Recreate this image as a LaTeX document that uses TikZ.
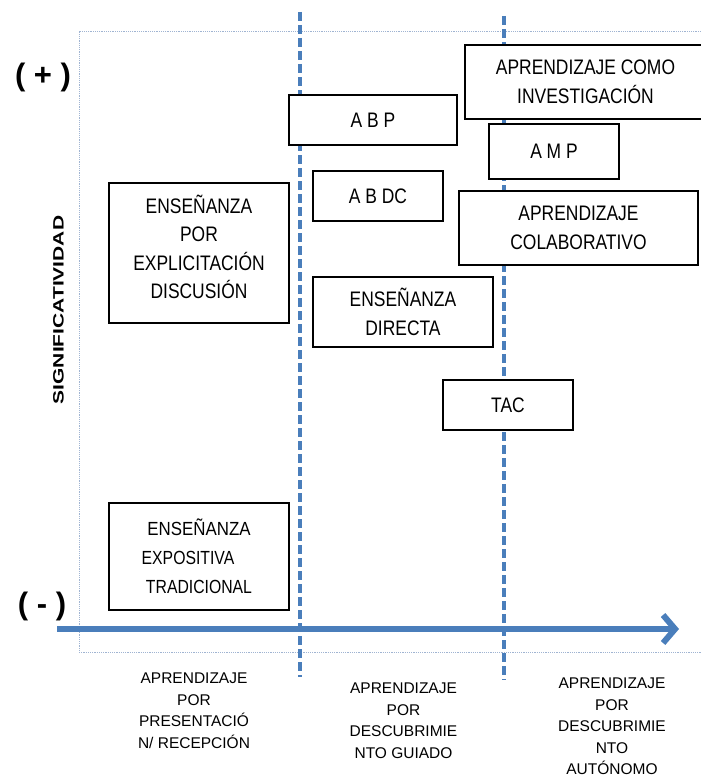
\documentclass[tikz,border=0pt]{standalone}
\usepackage{fontspec}
\usepackage{graphicx}
\setmainfont{Liberation Sans}
\newfontfamily\narrowfont[FakeStretch=0.83]{Liberation Sans}
\usetikzlibrary{arrows.meta}
\definecolor{axisblue}{RGB}{74,126,187}
\definecolor{framegray}{RGB}{160,180,210}
\tikzset{
  box/.style={draw=black, line width=1.2pt, fill=white, inner sep=0pt, align=center,
    font=\narrowfont\fontsize{21}{28.5}\selectfont},
  axislabel/.style={inner sep=0pt, align=center, anchor=north,
    font=\fontsize{15.5}{21.4}\selectfont},
  signlabel/.style={inner sep=0pt, font=\bfseries\fontsize{31}{31}\selectfont},
  divider/.style={draw=axisblue, line width=3.5pt, dash pattern=on 9pt off 4pt},
  frame/.style={draw=framegray, line width=0.8pt, dash pattern=on 1.2pt off 1pt}
}
\begin{document}
\begin{tikzpicture}[x=1pt,y=-1pt]
\useasboundingbox (0,0) rectangle (701,776);
\clip (0,0) rectangle (701,776);
% frame
\draw[frame] (712,31) -- (79,31) -- (79,652) -- (712,652);
% dividers
\coordinate (d1top) at (300,12);
\coordinate (d1bot) at (300,677);
\coordinate (d2top) at (504,16);
\coordinate (d2bot) at (504,680);
\draw[divider] (d1top) -- (d1bot);
\draw[divider] (d2top) -- (d2bot);
% axis arrow
\coordinate (ax0) at (57,629);
\coordinate (ax1) at (679,629);
\draw[draw=axisblue, line width=6pt, -{Straight Barb[length=12pt,width=28pt]}] (ax0) -- (ax1);
% boxes
\node[box, minimum width=241pt, minimum height=74pt] (invest) at (585.5,82) {APRENDIZAJE COMO\\INVESTIGACIÓN};
\node[box, minimum width=168pt, minimum height=50pt] (abp) at (373,120) {A B P};
\node[box, minimum width=130pt, minimum height=55pt] (amp) at (554,151.5) {A M P};
\node[box, minimum width=130pt, minimum height=50pt] (abdc) at (378,196) {A B DC};
\node[box, minimum width=239pt, minimum height=74pt] (colab) at (578.5,228) {APRENDIZAJE\\COLABORATIVO};
\node[box, minimum width=180pt, minimum height=140pt] (explic) at (199,253) {ENSEÑANZA\\POR\\EXPLICITACIÓN\\DISCUSIÓN\\[-16pt]\mbox{}};
\node[box, minimum width=180pt, minimum height=70pt] (directa) at (403,312) {ENSEÑANZA\\DIRECTA};
\node[box, minimum width=130pt, minimum height=50pt] (tac) at (508,405) {TAC};
\node[box, minimum width=180pt, minimum height=107pt, font=\narrowfont\fontsize{19}{29}\selectfont] (expos) at (199,556.5) {\scalebox{1.07}[1]{ENSEÑANZA}\\EXPOSITIVA\rule{22pt}{0pt}\\TRADICIONAL};
% signs and axis title
\node[signlabel] (plus) at (43,77) {( + )};
\node[signlabel] (minus) at (42,606) {( - )};
\node[inner sep=0pt, rotate=90, font=\bfseries\fontsize{15}{15}\selectfont] (signif) at (58.5,310) {\scalebox{1.4}[1]{SIGNIFICATIVIDAD}};
% bottom labels
\node[axislabel] (recep) at (194,673) {APRENDIZAJE\\POR\\PRESENTACIÓ\\N/ RECEPCIÓN};
\node[axislabel] (guiado) at (403.5,683) {APRENDIZAJE\\POR\\DESCUBRIMIE\\NTO GUIADO};
\node[axislabel] (auton) at (612,678) {APRENDIZAJE\\POR\\DESCUBRIMIE\\NTO\\AUTÓNOMO};
\end{tikzpicture}
\end{document}
